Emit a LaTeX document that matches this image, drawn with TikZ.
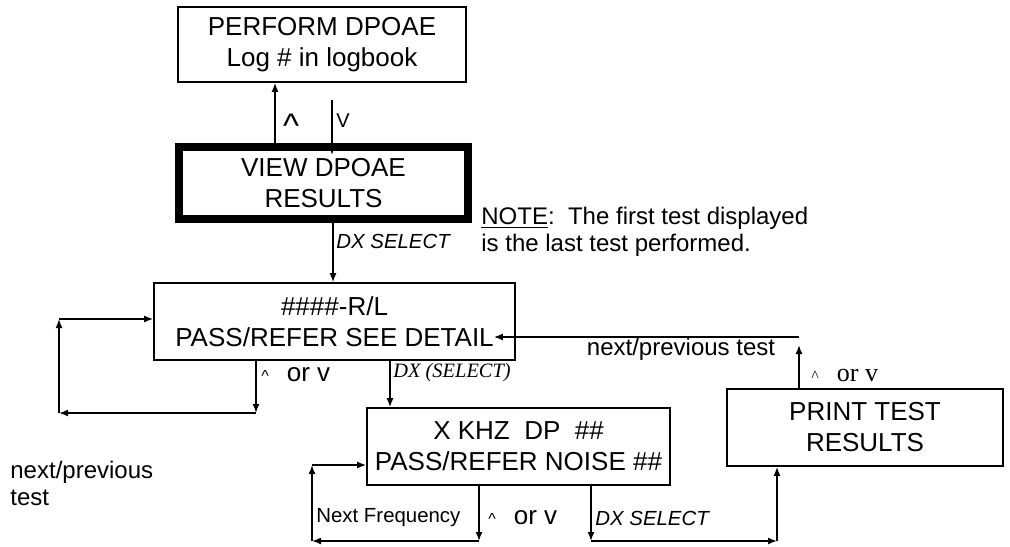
\documentclass[tikz,border=0pt]{standalone}
\usepackage{fontspec}
\setmainfont{Liberation Sans}
\newfontfamily\timesfont{Liberation Serif}
\usetikzlibrary{arrows.meta}
\tikzset{
  screen/.style={draw, line width=0.8pt, align=center, inner sep=0pt, font=\fontsize{13}{15.5}\selectfont},
  arr/.style={line width=0.8pt, -{Latex[length=4.5pt,width=3.5pt]}},
  keylbl/.style={inner sep=0pt, anchor=west, font=\fontsize{13}{15}\selectfont},
  smalllbl/.style={inner sep=0pt, anchor=west, font=\fontsize{10.2}{12}\selectfont},
  notelbl/.style={inner sep=0pt, align=left, font=\fontsize{12}{13.5}\selectfont}
}
\newcommand{\upkey}{{\fontsize{8}{8}\selectfont\textasciicircum}\hspace{9pt}}
\begin{document}
\begin{tikzpicture}[x=0.5pt,y=-0.5pt]
\useasboundingbox (0,0) rectangle (1010,546);
\node[screen, minimum width=144pt, minimum height=37.5pt] (perform) at (322,44.5) {PERFORM DPOAE\\Log \# in logbook};
\node[screen, line width=4pt, minimum width=144.5pt, minimum height=36pt] (view) at (323.5,183) {VIEW DPOAE\\RESULTS};
\node[screen, minimum width=180.5pt, minimum height=38.5pt] (detail) at (334.5,321.5) {\#\#\#\#-R/L\\PASS/REFER SEE DETAIL};
\node[screen, minimum width=151.5pt, minimum height=38.5pt] (freq) at (518.5,446.5) {X KHZ~ DP~ \#\#\\PASS/REFER NOISE \#\#};
\node[screen, minimum width=138pt, minimum height=38.5pt] (print) at (865,427.5) {PRINT TEST\\RESULTS};

\coordinate (upX) at (275,0);
\coordinate (dnTop) at (332,100);
\coordinate (selX) at (333,0);
\coordinate (lpA) at (256,413);
\coordinate (lpB) at (59,413);
\coordinate (lpC) at (59,319);
\coordinate (dxX) at (390,0);
\coordinate (fqA) at (479,541);
\coordinate (fqB) at (312,541);
\coordinate (fqC) at (312,465);
\coordinate (prA) at (591,541);
\coordinate (prB) at (777,541);
\coordinate (tsA) at (799,345);
\coordinate (tsB) at (799,337);

\draw[arr] (view.north -| upX) -- (perform.south -| upX);
\draw[arr, shorten >=-6pt] (dnTop) -- (dnTop |- view.north);
\draw[arr] (view.south -| selX) -- (detail.north -| selX);
\draw[arr] (detail.south -| lpA) -- (lpA);
\draw[arr] (lpA) -- (lpB);
\draw[arr] (lpB) -- (lpC);
\draw[arr] (lpC) -- (detail.west |- lpC);
\draw[arr] (detail.south -| dxX) -- (freq.north -| dxX);
\draw[arr] (freq.south -| fqA) -- (fqA);
\draw[arr] (fqA) -- (fqB);
\draw[arr] (fqB) -- (fqC);
\draw[arr] (fqC) -- (freq.west |- fqC);
\draw[arr] (freq.south -| prA) -- (prA);
\draw[arr] (prA) -- (prB);
\draw[arr] (prB) -- (print.south -| prB);
\draw[arr] (print.north -| tsA) -- (tsA);
\draw[arr, shorten >=-11pt] (tsB) -- (detail.east |- tsB);

\node[inner sep=0pt, font=\fontsize{17}{17}\selectfont] (upLbl) at (291,126) {\textasciicircum};
\node[inner sep=0pt, anchor=west, font=\fontsize{10}{10}\selectfont] (dnLbl) at (336,121) {V};
\node[smalllbl, font=\fontsize{10.2}{12}\selectfont\itshape] (selLbl) at (336,241) {DX SELECT};
\node[notelbl, anchor=north west] (note) at (481,207) {\underline{NOTE}:\ \ The first test displayed\\is the last test performed.};
\node[keylbl] (detKey) at (261,375) {\upkey or v};
\node[smalllbl, font=\fontsize{10.2}{12}\timesfont\itshape] (dxLbl) at (393,373) {DX (SELECT)};
\node[notelbl, anchor=north west] (nextTest) at (10,461) {next/previous\\test};
\node[notelbl] (prevTest) at (681,349) {next/previous test};
\node[keylbl, font=\fontsize{13}{15}\timesfont] (prKey) at (811,375) {{\fontsize{8}{8}\selectfont\textasciicircum}\hspace{9pt}or v};
\node[smalllbl] (nfLbl) at (316,518) {Next Frequency};
\node[keylbl] (fqKey) at (488,518) {\upkey or v};
\node[smalllbl, font=\fontsize{10.2}{12}\selectfont\itshape] (dx2Lbl) at (595,518) {DX SELECT};
\end{tikzpicture}
\end{document}
